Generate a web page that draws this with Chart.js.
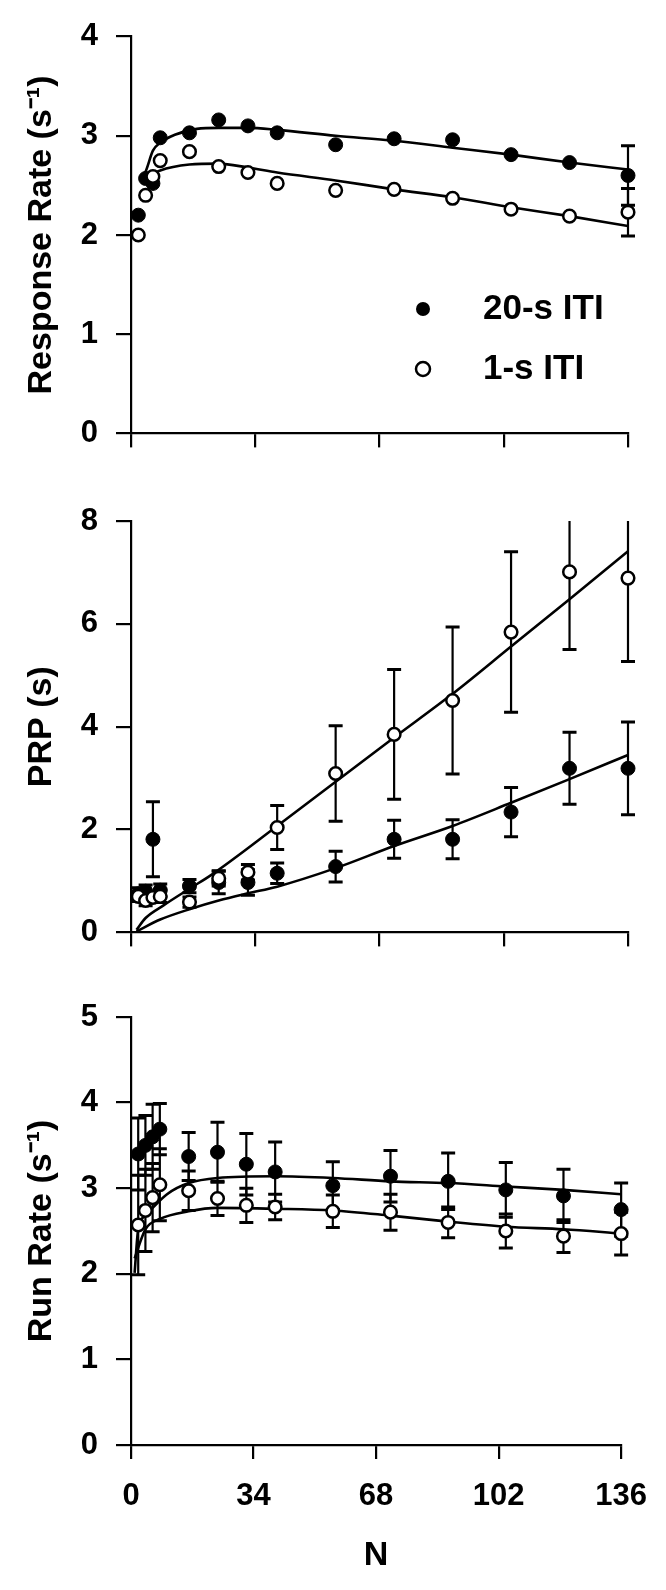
<!DOCTYPE html>
<html>
<head>
<meta charset="utf-8">
<script src="https://cdn.jsdelivr.net/npm/chart.js@4/dist/chart.umd.min.js"></script>
<style>
html,body{margin:0;padding:0;background:#fff;}
#wrap{position:relative;width:666px;height:1590px;overflow:hidden;background:#fff;}
canvas{position:absolute;left:0;display:block;}
</style>
</head>
<body>
<div id="wrap">
<canvas id="c1" width="666" height="470" style="top:0px"></canvas>
<canvas id="c2" width="666" height="499" style="top:470px"></canvas>
<canvas id="c3" width="666" height="621" style="top:969px"></canvas>
</div>
<script>
// ---------------- data ----------------
const N = [2, 4, 6, 8, 16, 24, 32, 40, 56, 72, 88, 104, 120, 136];
const xTickValues = [0, 34, 68, 102, 136];
const legendLabels = ['20-s ITI', '1-s ITI'];

// Panel 1: Response Rate
const respTicks = [0, 1, 2, 3, 4];
const resp20 = [2.20, 2.57, 2.52, 2.98, 3.03, 3.16, 3.10, 3.03, 2.91, 2.97, 2.96, 2.81, 2.73, 2.60];
const resp20Err = [0, 0, 0, 0, 0, 0, 0, 0, 0, 0, 0, 0, 0, 0.30];
const resp1 = [2.00, 2.40, 2.59, 2.75, 2.84, 2.69, 2.63, 2.52, 2.45, 2.46, 2.37, 2.26, 2.19, 2.23];
const resp1Err = [0, 0, 0, 0, 0, 0, 0, 0, 0, 0, 0, 0, 0, 0.24];
const resp20FitN = [2.5, 4, 6, 8, 12, 18, 24, 32, 40, 56, 72, 88, 104, 120, 136];
const resp20Fit = [2.55, 2.64, 2.85, 2.93, 3.01, 3.07, 3.08, 3.08, 3.06, 3.00, 2.95, 2.88, 2.81, 2.73, 2.66];
const resp1FitN = [3, 4, 8, 16, 24, 32, 40, 56, 72, 88, 104, 120, 136];
const resp1Fit = [2.52, 2.57, 2.65, 2.71, 2.72, 2.68, 2.63, 2.55, 2.46, 2.38, 2.28, 2.19, 2.09];

// Panel 2: PRP
const prpTicks = [0, 2, 4, 6, 8];
const prp20 = [0.75, 0.80, 1.81, 0.82, 0.90, 0.97, 0.97, 1.15, 1.28, 1.81, 1.81, 2.34, 3.19, 3.19];
const prp20Err = [0.12, 0.12, 0.73, 0.12, 0.13, 0.22, 0.25, 0.20, 0.30, 0.37, 0.38, 0.48, 0.70, 0.90];
const prp1 = [0.70, 0.62, 0.68, 0.70, 0.59, 1.05, 1.17, 2.04, 3.09, 3.85, 4.51, 5.84, 7.01, 6.89];
const prp1Err = [0.10, 0.10, 0.10, 0.12, 0.10, 0.15, 0.15, 0.43, 0.93, 1.26, 1.43, 1.56, 1.51, 1.62];
const prp20FitN = [1.5, 8, 16, 24, 32, 40, 56, 72, 88, 104, 120, 136];
const prp20Fit = [0.02, 0.25, 0.45, 0.62, 0.76, 0.89, 1.25, 1.68, 2.07, 2.52, 2.98, 3.45];
const prp1FitN = [1.5, 4, 9, 16, 22, 40, 56, 72, 88, 104, 120, 136];
const prp1Fit = [0.05, 0.28, 0.53, 0.85, 1.12, 2.07, 2.93, 3.79, 4.64, 5.56, 6.48, 7.41];

// Panel 3: Run Rate
const runTicks = [0, 1, 2, 3, 4, 5];
const run20 = [3.40, 3.50, 3.60, 3.69, 3.37, 3.42, 3.28, 3.19, 3.03, 3.14, 3.08, 2.98, 2.91, 2.75];
const run20Err = [0.42, 0.35, 0.38, 0.30, 0.28, 0.35, 0.36, 0.35, 0.28, 0.30, 0.33, 0.32, 0.31, 0.31];
const run1 = [2.57, 2.74, 2.89, 3.04, 2.97, 2.88, 2.80, 2.78, 2.73, 2.72, 2.60, 2.50, 2.44, 2.47];
const run1Err = [0.58, 0.48, 0.40, 0.42, 0.23, 0.20, 0.20, 0.15, 0.19, 0.21, 0.18, 0.20, 0.19, 0.25];
const run20FitN = [1, 2, 4, 6, 10, 16, 24, 40, 56, 72, 88, 104, 120, 136];
const run20Fit = [2.01, 2.52, 2.68, 2.77, 2.93, 3.06, 3.12, 3.14, 3.12, 3.08, 3.06, 3.02, 2.98, 2.93];
const run1FitN = [1, 4, 8, 16, 24, 40, 56, 72, 88, 104, 120, 136];
const run1Fit = [2.18, 2.52, 2.64, 2.73, 2.77, 2.76, 2.74, 2.68, 2.61, 2.55, 2.52, 2.47];

// ---------------- helpers ----------------
const FONT = "'Liberation Sans', Arial, Helvetica, sans-serif";
const pts = (xs, ys) => xs.map((v, i) => ({x: v, y: ys[i]}));

const errorBarPlugin = {
  id: 'errorBars',
  beforeDatasetsDraw(chart) {
    const {ctx, chartArea, scales} = chart;
    const xs = scales.x, ys = scales.y;
    ctx.save();
    ctx.beginPath();
    ctx.rect(chartArea.left - 20, chartArea.top, chartArea.right - chartArea.left + 40, chartArea.bottom - chartArea.top + 20);
    ctx.clip();
    ctx.strokeStyle = '#000';
    chart.data.datasets.forEach(ds => {
      if (!ds.errors) return;
      ds.data.forEach((p, i) => {
        const e = ds.errors[i];
        if (!e) return;
        const px = xs.getPixelForValue(p.x);
        const yt = ys.getPixelForValue(p.y + e);
        const yb = ys.getPixelForValue(p.y - e);
        ctx.lineWidth = 2.2;
        ctx.beginPath(); ctx.moveTo(px, yt); ctx.lineTo(px, yb); ctx.stroke();
        ctx.lineWidth = 3;
        ctx.beginPath();
        ctx.moveTo(px - 7, yt); ctx.lineTo(px + 7, yt);
        ctx.moveTo(px - 7, yb); ctx.lineTo(px + 7, yb);
        ctx.stroke();
      });
    });
    ctx.restore();
  }
};

const legendPlugin = {
  id: 'itiLegend',
  afterDatasetsDraw(chart, args, opts) {
    if (!opts || !opts.items) return;
    const ctx = chart.ctx;
    ctx.save();
    opts.items.forEach(it => {
      ctx.beginPath();
      ctx.arc(it.mx, it.my, 7, 0, Math.PI * 2);
      if (it.filled) { ctx.fillStyle = '#000'; ctx.fill(); }
      else { ctx.fillStyle = '#fff'; ctx.fill(); ctx.lineWidth = 2.5; ctx.strokeStyle = '#000'; ctx.stroke(); }
      ctx.fillStyle = '#000';
      ctx.font = 'bold 35px ' + FONT;
      ctx.textAlign = 'left';
      ctx.textBaseline = 'middle';
      ctx.fillText(it.text, it.tx, it.my);
    });
    ctx.restore();
  }
};

function lineDs(xs, ys) {
  return {data: pts(xs, ys), showLine: true, borderColor: '#000', borderWidth: 2.6,
          pointRadius: 0, cubicInterpolationMode: 'monotone', fill: false, order: 3, clip: false};
}
function filledDs(ys, errs) {
  return {data: pts(N, ys), errors: errs, showLine: false, pointRadius: 7,
          pointBackgroundColor: '#000', pointBorderColor: '#000', pointBorderWidth: 1, order: 2, clip: false};
}
function openDs(ys, errs) {
  return {data: pts(N, ys), errors: errs, showLine: false, pointRadius: 6.3,
          pointBackgroundColor: '#fff', pointBorderColor: '#000', pointBorderWidth: 2.5, order: 1, clip: false};
}

function axisCommon(tickLen) {
  return {
    grid: {display: true, drawOnChartArea: false, drawTicks: true, tickLength: tickLen,
           color: '#000', tickColor: '#000', lineWidth: 2.2, tickWidth: 2.2},
    border: {display: true, color: '#000', width: 2.2}
  };
}

function makeChart(id, cfg) {
  const yc = axisCommon(15), xc = axisCommon(14);
  return new Chart(document.getElementById(id), {
    type: 'scatter',
    data: {datasets: cfg.datasets},
    options: {
      responsive: false, animation: false, devicePixelRatio: 1,
      layout: {padding: {top: cfg.padTop, right: 38, left: 0, bottom: 0}},
      plugins: {legend: {display: false}, tooltip: {enabled: false},
                itiLegend: cfg.legend || {}},
      scales: {
        x: {
          type: 'linear', min: 0, max: 136,
          afterBuildTicks: s => { s.ticks = xTickValues.map(v => ({value: v})); },
          ticks: {display: cfg.showX, color: '#000', padding: 19, maxRotation: 0, autoSkip: false,
                  font: {family: FONT, size: 31, weight: 'bold'}},
          grid: xc.grid, border: xc.border,
          title: {display: cfg.showX, text: 'N', color: '#000',
                  font: {family: FONT, size: 34, weight: 'bold'}, padding: {top: 0, bottom: 14}},
          afterFit: s => { s.height = cfg.xH; }
        },
        y: {
          type: 'linear', min: 0, max: cfg.yMax,
          afterBuildTicks: s => { s.ticks = cfg.yTicks.map(v => ({value: v})); },
          ticks: {color: '#000', padding: 18, font: {family: FONT, size: 31, weight: 'bold'}},
          grid: yc.grid, border: yc.border,
          title: {display: true, text: cfg.title, color: '#000',
                  font: {family: FONT, size: 34, weight: 'bold'}, padding: {top: 21, bottom: 0}},
          afterFit: s => { s.width = 131; }
        }
      }
    },
    plugins: [errorBarPlugin, legendPlugin]
  });
}

makeChart('c1', {
  padTop: 22, xH: 20, showX: false, yMax: 4, yTicks: respTicks,
  title: 'Response Rate (s\u207B\u00B9)',
  datasets: [lineDs(resp20FitN, resp20Fit), lineDs(resp1FitN, resp1Fit),
             filledDs(resp20, resp20Err), openDs(resp1, resp1Err)],
  legend: {items: [
    {filled: true, mx: 423, my: 309, tx: 483, text: legendLabels[0]},
    {filled: false, mx: 423, my: 369, tx: 483, text: legendLabels[1]}
  ]}
});

makeChart('c2', {
  padTop: 51, xH: 20, showX: false, yMax: 8, yTicks: prpTicks,
  title: 'PRP (s)',
  datasets: [lineDs(prp20FitN, prp20Fit), lineDs(prp1FitN, prp1Fit),
             filledDs(prp20, prp20Err), openDs(prp1, prp1Err)]
});

makeChart('c3', {
  padTop: 48, xH: 145, showX: true, yMax: 5, yTicks: runTicks,
  title: 'Run Rate (s\u207B\u00B9)',
  datasets: [lineDs(run20FitN, run20Fit), lineDs(run1FitN, run1Fit),
             filledDs(run20, run20Err), openDs(run1, run1Err)]
});
</script>
</body>
</html>
